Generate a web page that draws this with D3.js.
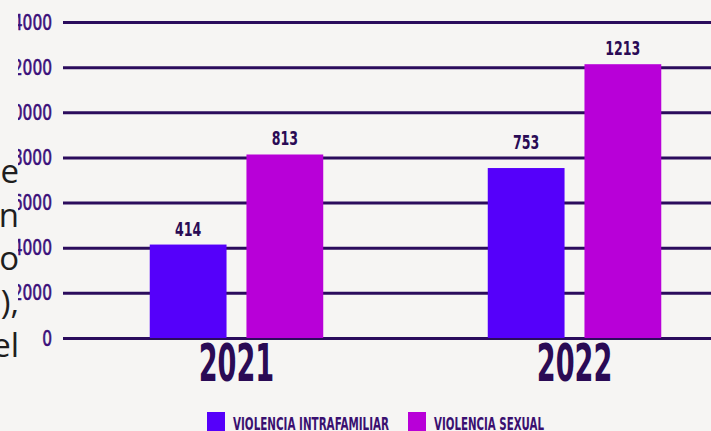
<!DOCTYPE html>
<html>
<head>
<meta charset="utf-8">
<script src="https://cdn.jsdelivr.net/npm/d3@7"></script>
<style>
  html, body { margin: 0; padding: 0; background: #f6f5f3; }
  svg { display: block; }
</style>
</head>
<body>
<div id="chart"></div>
<script>
// data
const years = ["2021", "2022"];
const seriesNames = ["VIOLENCIA INTRAFAMILIAR", "VIOLENCIA SEXUAL"];
const intrafamiliar = [414, 753];
const sexual = [813, 1213];
const yTicks = [0, 200, 400, 600, 800, 1000, 1200, 1400];
const tickLabels = ["0", "2000", "4000", "6000", "8000", "10000", "12000", "14000"];
// cut-off paragraph text on the left side
const sideText = ["e", "n", "o", "),", "el"];

const W = 711, H = 431;
const ink = "#2a0b55";
const narrow = "'DejaVu Sans Condensed', 'DejaVu Sans', sans-serif";

const svg = d3.select("#chart").append("svg")
    .attr("width", W)
    .attr("height", H);

svg.append("rect").attr("width", W).attr("height", H).attr("fill", "#f6f5f3");

// paragraph fragments peeking out on the left
svg.selectAll(".side")
    .data(sideText)
    .enter()
    .append("text")
    .attr("class", "side")
    .attr("x", 19)
    .attr("y", (d, i) => 183 + i * 43.5)
    .attr("text-anchor", "end")
    .style("font-family", "'Open Sans', sans-serif")
    .style("font-size", "33px")
    .style("fill", "#1e1e1e")
    .text(d => d);

// chart image starts a bit in from the left
svg.append("clipPath").attr("id", "clip")
    .append("rect").attr("x", 18).attr("y", 0).attr("width", W - 18).attr("height", H);

const chartG = svg.append("g").attr("clip-path", "url(#clip)");

// scales
const yScale = d3.scaleLinear().domain([0, 1400]).range([338, 22]);

const xScale = d3.scaleBand()
    .domain(years)
    .range([67.5, 743.5])
    .paddingInner(0.4867)
    .paddingOuter(0.2433);

const xSubgroup = d3.scaleBand()
    .domain(seriesNames)
    .range([0, xScale.bandwidth()])
    .paddingInner(0.206)
    .paddingOuter(0);

const color = d3.scaleOrdinal()
    .domain(seriesNames)
    .range(["#5500fa", "#b800d8"]);

// y axis / gridlines
const tickSx = 0.78;
const yAxis = chartG.append("g")
    .attr("class", "y-axis")
    .attr("transform", "translate(63,0)")
    .call(d3.axisLeft(yScale)
        .tickValues(yTicks)
        .tickSize(-(W - 63))
        .tickPadding(11)
        .tickFormat((d, i) => tickLabels[i]));

yAxis.select(".domain").remove();
yAxis.selectAll("line")
    .attr("stroke", "#2b0c5c")
    .attr("stroke-width", 3);
yAxis.selectAll("text")
    .attr("x", -11 / tickSx)
    .attr("transform", `scale(${tickSx},1)`)
    .style("font-family", narrow)
    .style("font-size", "22px")
    .style("stroke", "#3b0f7a")
    .style("stroke-width", 0.6)
    .style("fill", "#3b0f7a");

// bars
const rows = years.map((y, i) => ({ year: y, values: [intrafamiliar[i], sexual[i]] }));

const groups = chartG.selectAll(".year-group")
    .data(rows)
    .enter()
    .append("g")
    .attr("class", "year-group")
    .attr("transform", d => `translate(${xScale(d.year)},0)`);

const bars = groups.selectAll(".bar")
    .data(d => d.values.map((v, j) => ({ key: seriesNames[j], value: v })))
    .enter();

bars.append("rect")
    .attr("class", "bar")
    .attr("x", d => xSubgroup(d.key))
    .attr("y", d => yScale(d.value))
    .attr("width", xSubgroup.bandwidth())
    .attr("height", d => yScale(0) - yScale(d.value))
    .attr("fill", d => color(d.key));

// value labels (the 753 one sits higher, above the gridline, in the original)
const valSx = 0.7;
const lift = d => (d.value === 753 ? 19 : 9);
bars.append("text")
    .attr("transform", d => `translate(${xSubgroup(d.key) + xSubgroup.bandwidth() / 2},${yScale(d.value) - lift(d)}) scale(${valSx},1)`)
    .attr("text-anchor", "middle")
    .style("font-family", narrow)
    .style("font-weight", "bold")
    .style("font-size", "20px")
    .style("fill", ink)
    .text(d => d.value);

// year labels
const yearSx = 0.58;
chartG.selectAll(".year-label")
    .data(years)
    .enter()
    .append("text")
    .attr("class", "year-label")
    .attr("transform", d => `translate(${xScale(d) + xScale.bandwidth() / 2},381) scale(${yearSx},1)`)
    .attr("text-anchor", "middle")
    .style("font-family", narrow)
    .style("font-weight", "bold")
    .style("font-size", "52px")
    .style("fill", ink)
    .text(d => d);

// legend
const legendX = [207, 408];
const legendW = [156, 110];
const legend = chartG.append("g").attr("class", "legend-group");

legend.selectAll(".legend-item")
    .data(seriesNames)
    .enter()
    .append("rect")
    .attr("class", "legend-item")
    .attr("x", (d, i) => legendX[i])
    .attr("y", 412)
    .attr("width", 18)
    .attr("height", 19)
    .attr("fill", d => color(d));

legend.selectAll(".legend-text")
    .data(seriesNames)
    .enter()
    .append("text")
    .attr("class", "legend-text")
    .attr("x", (d, i) => legendX[i] + 26)
    .attr("y", 430)
    .attr("textLength", (d, i) => legendW[i])
    .attr("lengthAdjust", "spacingAndGlyphs")
    .style("font-family", narrow)
    .style("font-weight", "bold")
    .style("font-size", "17.5px")
    .style("fill", "#3a1070")
    .text(d => d);
</script>
</body>
</html>
